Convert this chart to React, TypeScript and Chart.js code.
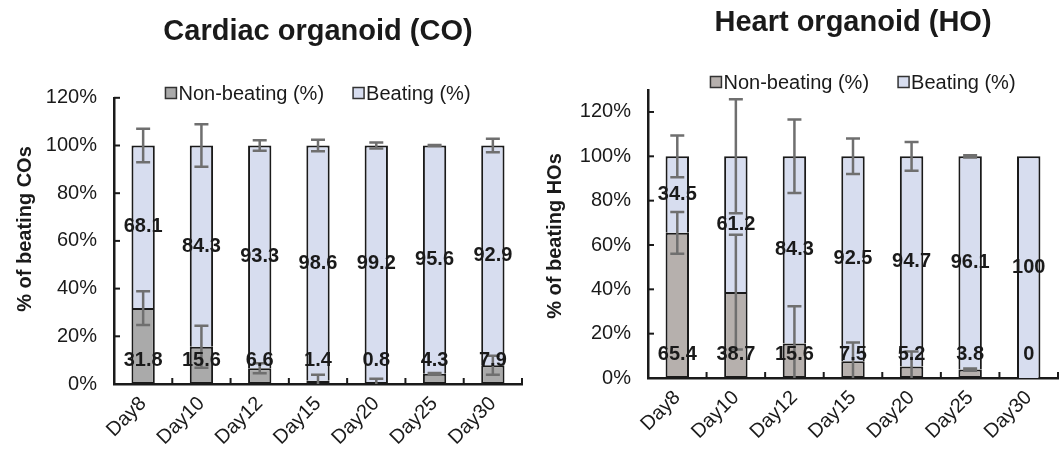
import React, { useEffect, useRef } from 'react';
import { Chart, registerables } from 'chart.js';

Chart.register(...registerables);
Chart.defaults.font.family = "'Liberation Sans', Arial, sans-serif";

const days = ['Day8', 'Day10', 'Day12', 'Day15', 'Day20', 'Day25', 'Day30'];

const coNonBeating = [31.8, 15.6, 6.6, 1.4, 0.8, 4.3, 7.9];
const coBeating = [68.1, 84.3, 93.3, 98.6, 99.2, 95.6, 92.9];
const coNonBeatingErr = [7.1, 8.8, 2.1, 2.5, 1.4, 0.3, 4.0];
const coBeatingErr = [7.0, 8.9, 2.2, 2.4, 1.3, 0.2, 2.8];

const hoNonBeating = [65.4, 38.7, 15.6, 7.5, 5.2, 3.8, 0];
const hoBeating = [34.5, 61.2, 84.3, 92.5, 94.7, 96.1, 100];
const hoNonBeatingErr = [9.4, 25.9, 16.8, 8.5, 6.8, 0.5, 0];
const hoBeatingErr = [9.4, 25.7, 16.6, 8.0, 6.5, 0.5, 0];

const seriesNames = ['Non-beating (%)', 'Beating (%)'];

const TEXT = '#1a1a1a';
const BEAT_COLOR = '#d7ddef';
const ERR_COLOR = '#6f6f6f';

type PanelCfg = {
  title: string;
  yTitle: string;
  nb: number[];
  b: number[];
  nbErr: number[];
  bErr: number[];
  nbColor: string;
  yMax: number;
  left: number;
  width: number;
  yWidth: number;
  padRight: number;
  titleTop: number;
  titleBottom: number;
  xHeight: number;
  legendCx: number;
  legendCy: number;
  yTitleX: number;
  yTitleCy: number;
};

const overlayPlugin = {
  id: 'overlay',
  afterDatasetsDraw(chart: any, _args: any, cfg: PanelCfg) {
    const { ctx, chartArea } = chart;
    const x = chart.scales.x;
    const y = chart.scales.y;
    ctx.save();

    // inward tick marks on y axis
    ctx.strokeStyle = TEXT;
    ctx.lineWidth = 2;
    y.ticks.forEach((t: any) => {
      const py = y.getPixelForValue(t.value);
      ctx.beginPath();
      ctx.moveTo(chartArea.left, py);
      ctx.lineTo(chartArea.left + 6, py);
      ctx.stroke();
    });
    // inward tick marks on x axis (category boundaries)
    const n = days.length;
    const cw = (chartArea.right - chartArea.left) / n;
    for (let i = 1; i <= n; i++) {
      const px = chartArea.left + cw * i;
      ctx.beginPath();
      ctx.moveTo(px, chartArea.bottom);
      ctx.lineTo(px, chartArea.bottom - 6);
      ctx.stroke();
    }

    // error bars
    const drawErr = (px: number, v: number, e: number) => {
      if (!e) return;
      const top = v + e;
      const bot = Math.max(v - e, 0);
      const yt = y.getPixelForValue(top);
      const yb = y.getPixelForValue(bot);
      ctx.strokeStyle = ERR_COLOR;
      ctx.lineWidth = 2.5;
      ctx.beginPath();
      ctx.moveTo(px, yt);
      ctx.lineTo(px, yb);
      ctx.moveTo(px - 7, yt);
      ctx.lineTo(px + 7, yt);
      if (v - e >= 0) {
        ctx.moveTo(px - 7, yb);
        ctx.lineTo(px + 7, yb);
      }
      ctx.stroke();
    };
    cfg.nb.forEach((v, i) => {
      const total = v + cfg.b[i];
      const nbN = (v / total) * 100;
      const px = x.getPixelForValue(i);
      drawErr(px, nbN, cfg.nbErr[i]);
      drawErr(px, 100, cfg.bErr[i]);
    });

    // data labels
    ctx.fillStyle = TEXT;
    ctx.font = "bold 20px 'Liberation Sans', Arial, sans-serif";
    ctx.textAlign = 'center';
    ctx.textBaseline = 'middle';
    cfg.nb.forEach((v, i) => {
      const total = v + cfg.b[i];
      const nbN = (v / total) * 100;
      const px = x.getPixelForValue(i);
      ctx.fillText(String(cfg.b[i]), px, y.getPixelForValue((nbN + 100) / 2));
      ctx.fillText(String(v), px, y.getPixelForValue(0) - 24);
    });

    // legend
    ctx.font = "20px 'Liberation Sans', Arial, sans-serif";
    ctx.textAlign = 'left';
    const box = 11;
    const gap = 2;
    const itemGap = 29;
    const colors = [cfg.nbColor, BEAT_COLOR];
    const widths = seriesNames.map((s) => ctx.measureText(s).width);
    const total = widths.reduce((a, w) => a + box + gap + w, 0) + itemGap;
    let lx = cfg.legendCx - total / 2;
    seriesNames.forEach((s, i) => {
      ctx.fillStyle = colors[i];
      ctx.fillRect(lx, cfg.legendCy - box / 2, box, box);
      ctx.strokeStyle = '#333';
      ctx.lineWidth = 1.5;
      ctx.strokeRect(lx, cfg.legendCy - box / 2, box, box);
      ctx.fillStyle = TEXT;
      ctx.fillText(s, lx + box + gap, cfg.legendCy + 1);
      lx += box + gap + widths[i] + itemGap;
    });

    // y-axis title
    ctx.save();
    ctx.translate(cfg.yTitleX, cfg.yTitleCy);
    ctx.rotate(-Math.PI / 2);
    ctx.font = "bold 20px 'Liberation Sans', Arial, sans-serif";
    ctx.textAlign = 'center';
    ctx.textBaseline = 'middle';
    ctx.fillStyle = TEXT;
    ctx.fillText(cfg.yTitle, 0, 0);
    ctx.restore();

    ctx.restore();
  },
};

function Panel({ cfg }: { cfg: PanelCfg }) {
  const ref = useRef<HTMLCanvasElement>(null);
  useEffect(() => {
    const nbNorm = cfg.nb.map((v, i) => (v / (v + cfg.b[i])) * 100);
    const bNorm = cfg.b.map((v, i) => (v / (cfg.nb[i] + v)) * 100);
    const chart = new Chart(ref.current as HTMLCanvasElement, {
      type: 'bar',
      data: {
        labels: days,
        datasets: [
          {
            label: seriesNames[0],
            data: nbNorm,
            backgroundColor: cfg.nbColor,
            borderColor: TEXT,
            borderWidth: 2,
            borderSkipped: false,
            barPercentage: 0.4,
            categoryPercentage: 1,
          },
          {
            label: seriesNames[1],
            data: bNorm,
            backgroundColor: BEAT_COLOR,
            borderColor: TEXT,
            borderWidth: 2,
            borderSkipped: 'start',
            barPercentage: 0.4,
            categoryPercentage: 1,
          },
        ],
      },
      options: {
        responsive: false,
        animation: false,
        layout: { padding: { left: 0, right: cfg.padRight, top: 0, bottom: 0 } },
        plugins: {
          legend: { display: false },
          tooltip: { enabled: false },
          title: {
            display: true,
            text: cfg.title,
            fullSize: false,
            color: TEXT,
            font: { size: 29, weight: 'bold' },
            padding: { top: cfg.titleTop, bottom: cfg.titleBottom },
          },
          overlay: cfg,
        } as any,
        scales: {
          x: {
            stacked: true,
            grid: { display: false, drawTicks: false },
            border: { display: true, color: TEXT, width: 2.5 },
            ticks: { color: TEXT, font: { size: 20 }, minRotation: 45, maxRotation: 45, padding: 8 },
            afterFit: (s: any) => {
              s.height = cfg.xHeight;
            },
          },
          y: {
            stacked: true,
            min: 0,
            max: cfg.yMax,
            afterBuildTicks: (s: any) => {
              s.ticks = s.ticks.filter((t: any) => t.value <= 120);
            },
            grid: { display: false, drawTicks: false },
            border: { display: true, color: TEXT, width: 2.5 },
            ticks: {
              stepSize: 20,
              color: TEXT,
              font: { size: 20 },
              padding: 17,
              callback: (v: any) => v + '%',
            },
            afterFit: (s: any) => {
              s.width = cfg.yWidth;
            },
          },
        },
      } as any,
      plugins: [overlayPlugin],
    });
    return () => chart.destroy();
  }, []);
  return (
    <canvas
      ref={ref}
      width={cfg.width}
      height={455}
      style={{ position: 'absolute', left: cfg.left, top: 0, width: cfg.width, height: 455 }}
    />
  );
}

const leftCfg: PanelCfg = {
  title: 'Cardiac organoid (CO)',
  yTitle: '% of beating COs',
  nb: coNonBeating,
  b: coBeating,
  nbErr: coNonBeatingErr,
  bErr: coBeatingErr,
  nbColor: '#aaaaaa',
  yMax: 120,
  left: 0,
  width: 530,
  yWidth: 114,
  padRight: 8,
  titleTop: 15,
  titleBottom: 48,
  xHeight: 71,
  legendCx: 318,
  legendCy: 93,
  yTitleX: 25,
  yTitleCy: 229,
};

const rightCfg: PanelCfg = {
  title: 'Heart organoid (HO)',
  yTitle: '% of beating HOs',
  nb: hoNonBeating,
  b: hoBeating,
  nbErr: hoNonBeatingErr,
  bErr: hoBeatingErr,
  nbColor: '#b6b0ad',
  yMax: 130,
  left: 530,
  width: 529,
  yWidth: 118,
  padRight: 1,
  titleTop: 6,
  titleBottom: 49,
  xHeight: 77,
  legendCx: 333,
  legendCy: 82,
  yTitleX: 25,
  yTitleCy: 236,
};

export default function App() {
  return (
    <div style={{ position: 'absolute', left: 0, top: 0, width: 1059, height: 455, background: '#fff' }}>
      <Panel cfg={leftCfg} />
      <Panel cfg={rightCfg} />
    </div>
  );
}
